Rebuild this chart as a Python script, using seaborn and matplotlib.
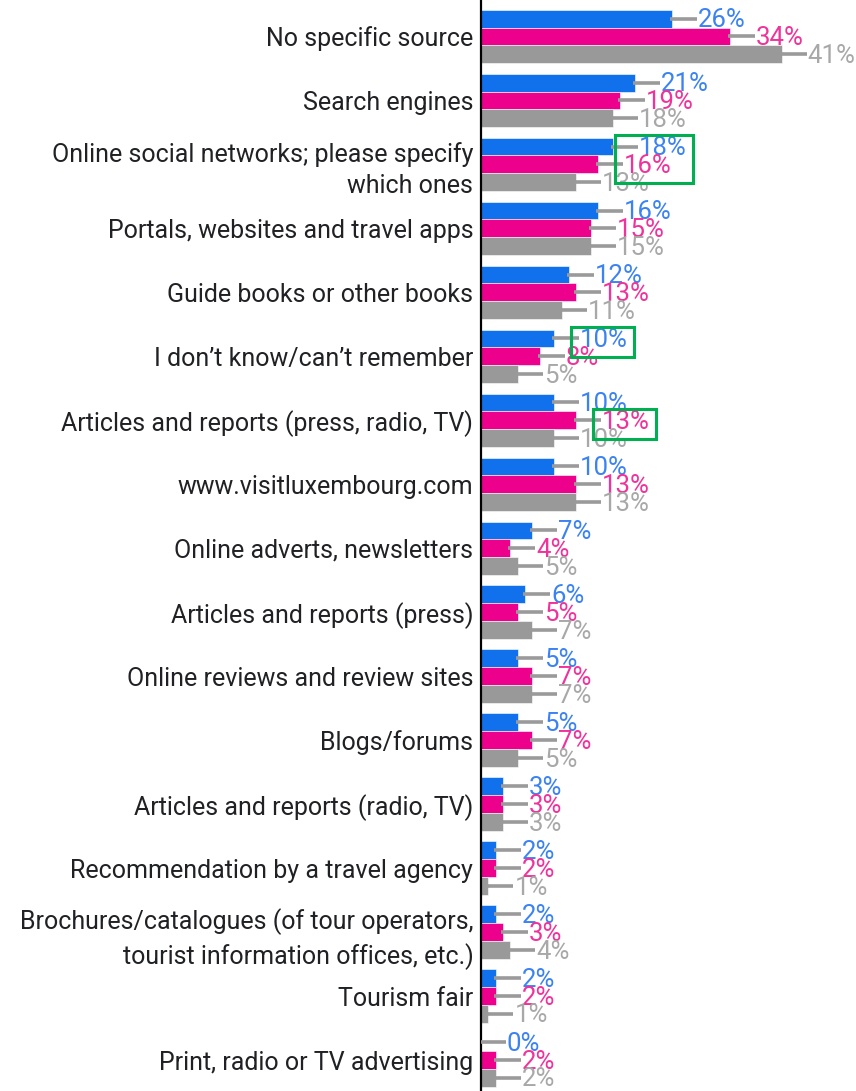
import numpy as np
import pandas as pd
import matplotlib
matplotlib.use("Agg")
import matplotlib.pyplot as plt
from matplotlib.patches import Rectangle
import seaborn as sns

# Information sources, top to bottom
categories = [
    "No specific source",
    "Search engines",
    "Online social networks; please specify\nwhich ones",
    "Portals, websites and travel apps",
    "Guide books or other books",
    "I don\u2019t know/can\u2019t remember",
    "Articles and reports (press, radio, TV)",
    "www.visitluxembourg.com",
    "Online adverts, newsletters",
    "Articles and reports (press)",
    "Online reviews and review sites",
    "Blogs/forums",
    "Articles and reports (radio, TV)",
    "Recommendation by a travel agency",
    "Brochures/catalogues (of tour operators,\ntourist information offices, etc.)",
    "Tourism fair",
    "Print, radio or TV advertising",
]

series_names = ["Wave A", "Wave B", "Wave C"]
wave_a = [26, 21, 18, 16, 12, 10, 10, 10, 7, 6, 5, 5, 3, 2, 2, 2, 0]
wave_b = [34, 19, 16, 15, 13, 8, 13, 13, 4, 5, 7, 7, 3, 2, 3, 2, 2]
wave_c = [41, 18, 13, 15, 11, 5, 10, 13, 5, 7, 7, 5, 3, 1, 4, 1, 2]

bar_colors = ["#1170EC", "#EC008C", "#999999"]
label_colors = ["#3B82F2", "#F0329A", "#A8A8A8"]
leader_color = "#9A9A9A"
box_color = "#00B050"

# (category index, series index) of value labels framed by a highlight box
highlighted = [[(2, 0), (2, 1)], [(5, 0)], [(6, 1)]]

df = pd.DataFrame({
    "source": np.repeat(categories, 3),
    "series": series_names * len(categories),
    "share": np.ravel(np.column_stack([wave_a, wave_b, wave_c])),
})

sns.set_style("white")
plt.rcParams["font.family"] = ["Roboto", "DejaVu Sans"]

W, H, DPI = 856, 1091, 100
fig = plt.figure(figsize=(W / DPI, H / DPI), dpi=DPI)
ax_left = 481 / W
ax = fig.add_axes([ax_left, 0, 1 - ax_left, 1])

sns.barplot(
    data=df, y="source", x="share", hue="series", orient="h",
    order=categories, hue_order=series_names, palette=bar_colors,
    width=0.84, errorbar=None, legend=False, ax=ax,
    edgecolor="white", linewidth=0.4, saturation=1,
)

xmax = 51.16
ax.set_xlim(0, xmax)
ax.set_ylim(16.48, -0.57)
ax.set_xlabel("")
ax.set_ylabel("")
ax.set_xticks([])
for s in ["top", "right", "bottom"]:
    ax.spines[s].set_visible(False)
ax.spines["left"].set_color("black")
ax.spines["left"].set_linewidth(1.6)
ax.tick_params(axis="y", length=0, pad=5.5, labelsize=18, labelcolor="#202124")
for t in ax.get_yticklabels():
    t.set_linespacing(1.36)

px_per_unit = (W * (1 - ax_left)) / xmax
lead_start = -2 / px_per_unit
lead_end = 25 / px_per_unit
text_gap = 26 / px_per_unit

texts = {}
for si, cont in enumerate(ax.containers):
    for ci, bar in enumerate(cont):
        v = bar.get_width()
        yc = bar.get_y() + bar.get_height() / 2
        ax.plot([v + lead_start, v + lead_end], [yc, yc], color=leader_color,
                lw=2.6, solid_capstyle="butt", zorder=3)
        texts[(ci, si)] = ax.text(v + text_gap, yc + 0.02, f"{v:.0f}%",
                                  ha="left", va="center", fontsize=18.5,
                                  color=label_colors[si], zorder=4)

fig.canvas.draw()
renderer = fig.canvas.get_renderer()
inv = ax.transData.inverted()
for group in highlighted:
    exts = [texts[k].get_window_extent(renderer) for k in group]
    x0 = min(e.x0 for e in exts) - 9
    x1 = max(e.x1 for e in exts) + 6
    y0 = min(e.y0 for e in exts) - 5
    y1 = max(e.y1 for e in exts) + 1
    (dx0, dy0), (dx1, dy1) = inv.transform([(x0, y0), (x1, y1)])
    ax.add_patch(Rectangle((dx0, dy0), dx1 - dx0, dy1 - dy0, fill=False,
                           edgecolor=box_color, lw=2.2, zorder=5, clip_on=False))

fig.savefig("out.png", dpi=DPI)
